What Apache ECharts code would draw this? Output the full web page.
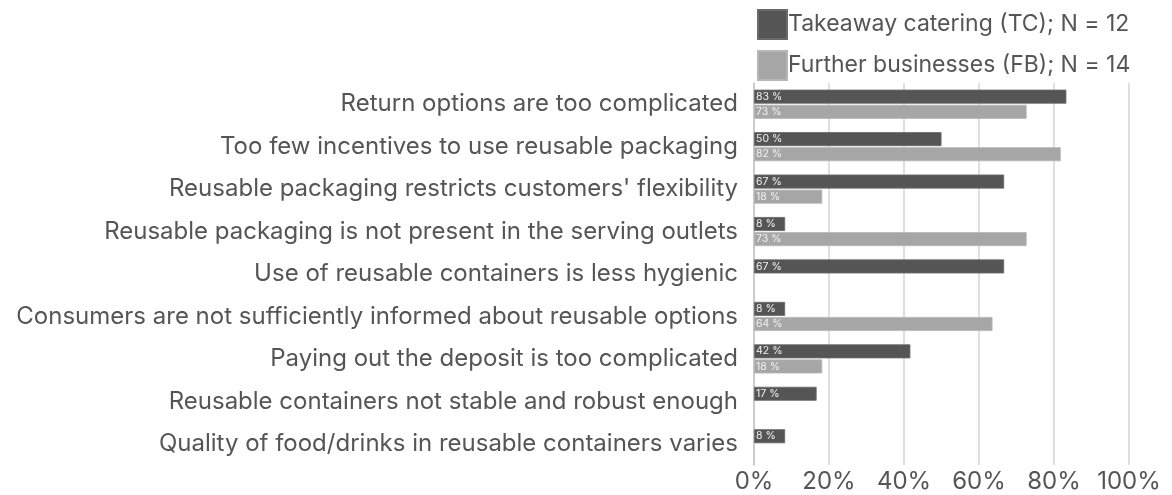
<!DOCTYPE html>
<html>
<head>
<meta charset="utf-8">
<script src="https://cdn.jsdelivr.net/npm/echarts@6/dist/echarts.min.js"></script>
<style>
html,body{margin:0;padding:0;background:#fff;}
#chart{width:1172px;height:495px;}
</style>
</head>
<body>
<div id="chart"></div>
<script>
const categories = [
  "Return options are too complicated",
  "Too few incentives to use reusable packaging",
  "Reusable packaging restricts customers' flexibility",
  "Reusable packaging is not present in the serving outlets",
  "Use of reusable containers is less hygienic",
  "Consumers are not sufficiently informed about reusable options",
  "Paying out the deposit is too complicated",
  "Reusable containers not stable and robust enough",
  "Quality of food/drinks in reusable containers varies"
];
const seriesNames = ["Takeaway catering (TC); N = 12", "Further businesses (FB); N = 14"];
const tcValues = [83.3, 50, 66.7, 8.3, 66.7, 8.3, 41.7, 16.7, 8.3];
const fbValues = [72.7, 81.8, 18.2, 72.7, null, 63.6, 18.2, null, null];
const xTicks = [0, 20, 40, 60, 80, 100];

const chart = echarts.init(document.getElementById('chart'));
const fontFam = "Inter, 'Noto Sans', sans-serif";
const labelCfg = {
  show: true,
  position: 'insideLeft',
  distance: 2,
  color: '#f0f0f0',
  fontSize: 10.5,
  fontFamily: fontFam,
  formatter: p => (p.value == null ? '' : Math.round(p.value) + ' %')
};
chart.setOption({
  animation: false,
  legend: {
    orient: 'vertical',
    left: 752,
    top: 4,
    itemWidth: 29,
    itemHeight: 29,
    itemGap: 10,
    icon: 'rect',
    textStyle: {color: '#555', fontSize: 23, fontFamily: fontFam, padding: [0,0,0,-4]},
    data: seriesNames
  },
  grid: {left: 754, right: 43, top: 83, height: 382, containLabel: false},
  xAxis: {
    type: 'value',
    min: 0, max: 100, interval: 20,
    axisLabel: {formatter: v => xTicks.includes(v) ? v + '%' : '', color: '#555', fontSize: 24, fontFamily: fontFam, margin: 5},
    splitLine: {show: true, lineStyle: {color: '#d4d4d4', width: 1.5}},
    axisLine: {show: false},
    axisTick: {show: false}
  },
  yAxis: {
    type: 'category',
    inverse: true,
    data: categories,
    axisLine: {show: true, lineStyle: {color: '#c4c4c4', width: 1.5}},
    axisTick: {show: false},
    axisLabel: {color: '#555', fontSize: 24, fontFamily: fontFam, margin: 16}
  },
  series: [
    {name: seriesNames[0], type: 'bar', data: tcValues, barWidth: 14, barGap: '8%',
     itemStyle: {color: '#555555', borderColor: '#6a6a6a', borderWidth: 0.8}, label: labelCfg},
    {name: seriesNames[1], type: 'bar', data: fbValues, barWidth: 14,
     itemStyle: {color: '#a6a6a6', borderColor: '#b6b6b6', borderWidth: 0.8}, label: labelCfg}
  ]
});
</script>
</body>
</html>
